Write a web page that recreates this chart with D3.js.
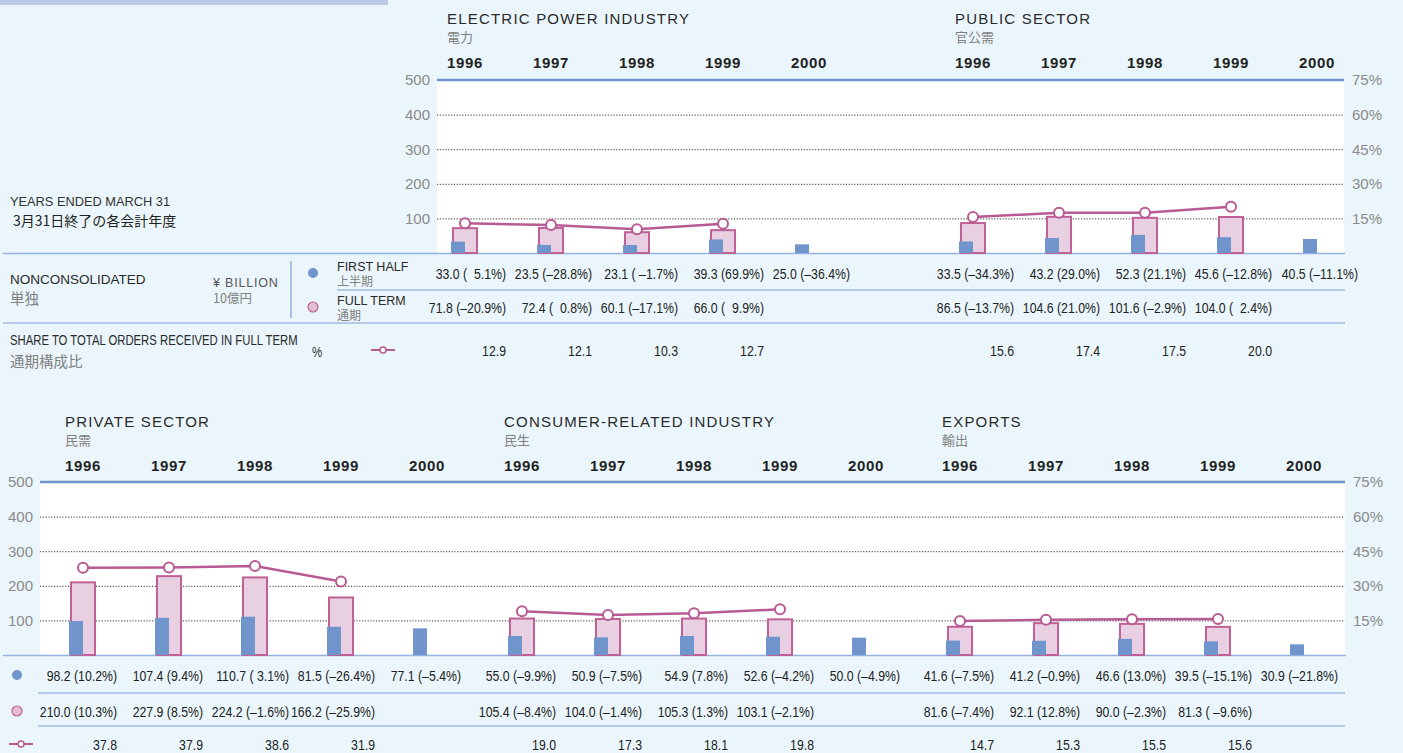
<!DOCTYPE html>
<html>
<head>
<meta charset="utf-8">
<script src="https://cdn.jsdelivr.net/npm/d3@7"></script>
<style>
body{margin:0;background:#eaf6fb;}
svg{display:block;}
text{font-family:"Liberation Sans",Arial,sans-serif;}
.jp{font-family:"Noto Sans CJK JP",sans-serif;}
</style>
</head>
<body>
<svg id="chart" width="1403" height="753"></svg>
<script>
const years = ["1996", "1997", "1998", "1999", "2000"];
const leftTicks = [100, 200, 300, 400, 500];
const rightTicks = [15, 30, 45, 60, 75];

// electric power
const electricFirstHalf = [33.0, 23.5, 23.1, 39.3, 25.0];
const electricFirstGrowth = ["  5.1%", "–28.8%", " –1.7%", "69.9%", "–36.4%"];
const electricFullTerm = [71.8, 72.4, 60.1, 66.0];
const electricFullGrowth = ["–20.9%", "  0.8%", "–17.1%", "  9.9%"];
const electricShare = [12.9, 12.1, 10.3, 12.7];

// public sector
const publicFirstHalf = [33.5, 43.2, 52.3, 45.6, 40.5];
const publicFirstGrowth = ["–34.3%", "29.0%", "21.1%", "–12.8%", "–11.1%"];
const publicFullTerm = [86.5, 104.6, 101.6, 104.0];
const publicFullGrowth = ["–13.7%", "21.0%", "–2.9%", "  2.4%"];
const publicShare = [15.6, 17.4, 17.5, 20.0];

// private sector
const privateFirstHalf = [98.2, 107.4, 110.7, 81.5, 77.1];
const privateFirstGrowth = ["10.2%", "9.4%", " 3.1%", "–26.4%", "–5.4%"];
const privateFullTerm = [210.0, 227.9, 224.2, 166.2];
const privateFullGrowth = ["10.3%", "8.5%", "–1.6%", "–25.9%"];
const privateShare = [37.8, 37.9, 38.6, 31.9];

// consumer-related
const consumerFirstHalf = [55.0, 50.9, 54.9, 52.6, 50.0];
const consumerFirstGrowth = ["–9.9%", "–7.5%", "7.8%", "–4.2%", "–4.9%"];
const consumerFullTerm = [105.4, 104.0, 105.3, 103.1];
const consumerFullGrowth = ["–8.4%", "–1.4%", "1.3%", "–2.1%"];
const consumerShare = [19.0, 17.3, 18.1, 19.8];

// exports
const exportsFirstHalf = [41.6, 41.2, 46.6, 39.5, 30.9];
const exportsFirstGrowth = ["–7.5%", "–0.9%", "13.0%", "–15.1%", "–21.8%"];
const exportsFullTerm = [81.6, 92.1, 90.0, 81.3];
const exportsFullGrowth = ["–7.4%", "12.8%", "–2.3%", " –9.6%"];
const exportsShare = [14.7, 15.3, 15.5, 15.6];

const BLUE = "#7094cc";
const PINK = "#b85a93";
const PINK_FILL = "#e8d0e2";
const LINE_BLUE = "#7d9bd6";
const SX = 0.82; // condensed look for table figures
const fmt = d3.format(".1f");

const svg = d3.select("#chart");

const panels = [
  {top: 80, bottom: 253, left: 437, right: 1344, titleY: 24, jpY: 42, yearY: 68,
   rowFirst: 279, rowFull: 313, rowShare: 356, valOffset: 55,
   groups: [
     {title: "ELECTRIC POWER INDUSTRY", jp: "電力", x0: 451,
      first: electricFirstHalf, firstG: electricFirstGrowth, full: electricFullTerm, fullG: electricFullGrowth, share: electricShare},
     {title: "PUBLIC SECTOR", jp: "官公需", x0: 959,
      first: publicFirstHalf, firstG: publicFirstGrowth, full: publicFullTerm, fullG: publicFullGrowth, share: publicShare}
   ]},
  {top: 482, bottom: 655, left: 40, right: 1345, titleY: 427, jpY: 445, yearY: 471,
   rowFirst: 681, rowFull: 717, rowShare: 750, valOffset: 48,
   groups: [
     {title: "PRIVATE SECTOR", jp: "民需", x0: 69,
      first: privateFirstHalf, firstG: privateFirstGrowth, full: privateFullTerm, fullG: privateFullGrowth, share: privateShare},
     {title: "CONSUMER-RELATED INDUSTRY", jp: "民生", x0: 508,
      first: consumerFirstHalf, firstG: consumerFirstGrowth, full: consumerFullTerm, fullG: consumerFullGrowth, share: consumerShare},
     {title: "EXPORTS", jp: "輸出", x0: 946,
      first: exportsFirstHalf, firstG: exportsFirstGrowth, full: exportsFullTerm, fullG: exportsFullGrowth, share: exportsShare}
   ]}
];

// band at top left
svg.append("rect").attr("x", 0).attr("y", 0).attr("width", 388).attr("height", 5).attr("fill", "#bdc9e8");

function hline(x1, x2, y, color, w){
  svg.append("line").attr("x1", x1).attr("x2", x2).attr("y1", y).attr("y2", y)
    .attr("stroke", color).attr("stroke-width", w);
}

panels.forEach(p => {
  const y = d3.scaleLinear().domain([0, 500]).range([p.bottom, p.top]);
  const yPct = d3.scaleLinear().domain([0, 75]).range([p.bottom, p.top]);

  svg.append("rect").attr("x", p.left).attr("y", p.top)
    .attr("width", p.right - p.left).attr("height", p.bottom - p.top).attr("fill", "#fff");

  // grid
  const grid = svg.append("g").attr("transform", `translate(${p.left},0)`)
    .call(d3.axisRight(y).tickValues([100, 200, 300, 400]).tickSize(p.right - p.left).tickFormat(""));
  grid.select(".domain").remove();
  grid.selectAll("line").attr("stroke", "#333").attr("stroke-dasharray", "1.2,1.6");

  // left axis
  const la = svg.append("g").attr("transform", `translate(${p.left},0)`)
    .call(d3.axisLeft(y).tickValues(leftTicks).tickSize(0).tickPadding(7));
  la.select(".domain").remove();
  la.selectAll("text").attr("font-size", 15).attr("fill", "#8a8a8a").attr("font-family", "Liberation Sans");

  // right axis
  const ra = svg.append("g").attr("transform", `translate(${p.right},0)`)
    .call(d3.axisRight(yPct).tickValues(rightTicks).tickSize(0).tickPadding(8).tickFormat(d => d + "%"));
  ra.select(".domain").remove();
  ra.selectAll("text").attr("font-size", 15).attr("fill", "#8a8a8a").attr("font-family", "Liberation Sans");

  hline(p.left, p.right, p.top, "#7094cc", 2.5);
  hline(3, p.right + 1, p.bottom + 0.5, "#93b2e2", 1.5);

  p.groups.forEach(g => {
    const x = d3.scalePoint().domain(years).range([g.x0, g.x0 + 4 * 86]);
    const cx = d => x(d) + 14;

    svg.append("text").attr("x", g.x0 - 4).attr("y", p.titleY)
      .attr("font-size", 15).attr("letter-spacing", 1.2).attr("fill", "#2a2a2a").text(g.title);
    svg.append("text").attr("class", "jp").attr("x", g.x0 - 4).attr("y", p.jpY)
      .attr("font-size", 13).attr("fill", "#808080").text(g.jp);

    svg.append("g").selectAll("text").data(years).join("text")
      .attr("x", cx).attr("y", p.yearY).attr("text-anchor", "middle")
      .attr("font-size", 15).attr("font-weight", "bold").attr("letter-spacing", 0.6)
      .attr("fill", "#222").text(d => d);

    // full term bars
    const fullYears = years.slice(0, g.full.length);
    svg.append("g").selectAll("rect").data(g.full).join("rect")
      .attr("x", (d, i) => x(years[i]) + 2).attr("width", 24)
      .attr("y", d => y(d)).attr("height", d => p.bottom - y(d))
      .attr("fill", PINK_FILL).attr("stroke", "#c06096").attr("stroke-width", 2);

    // first half bars
    svg.append("g").selectAll("rect").data(g.first).join("rect")
      .attr("x", (d, i) => x(years[i])).attr("width", 14)
      .attr("y", d => y(d)).attr("height", d => p.bottom - y(d))
      .attr("fill", BLUE);

    // share line
    const line = d3.line().x((d, i) => cx(fullYears[i])).y(d => yPct(d));
    svg.append("path").datum(g.share).attr("d", line)
      .attr("fill", "none").attr("stroke", PINK).attr("stroke-width", 2.5);
    svg.append("g").selectAll("circle").data(g.share).join("circle")
      .attr("cx", (d, i) => cx(fullYears[i])).attr("cy", d => yPct(d)).attr("r", 5)
      .attr("fill", "#fff").attr("stroke", PINK).attr("stroke-width", 2);

    // table values
    const valX = i => x(years[i]) + p.valOffset;
    const valText = (sel, row) => sel
      .attr("transform", (d, i) => `translate(${valX(i)},${row}) scale(${SX},1)`)
      .attr("text-anchor", "end").attr("font-size", 15).attr("fill", "#222")
      .attr("xml:space", "preserve").style("white-space", "pre");

    svg.append("g").selectAll("text").data(g.first).join("text")
      .call(valText, p.rowFirst).text((d, i) => `${fmt(d)} (${g.firstG[i]})`);
    svg.append("g").selectAll("text").data(g.full).join("text")
      .call(valText, p.rowFull).text((d, i) => `${fmt(d)} (${g.fullG[i]})`);
    svg.append("g").selectAll("text").data(g.share).join("text")
      .call(valText, p.rowShare).text(d => fmt(d));
  });
});

// table frame
hline(337, 1345, 290, LINE_BLUE, 1.2);
hline(3, 1345, 323, LINE_BLUE, 1.2);
svg.append("line").attr("x1", 291).attr("x2", 291).attr("y1", 261).attr("y2", 318)
  .attr("stroke", LINE_BLUE).attr("stroke-width", 1.2);
hline(38, 1345, 693, LINE_BLUE, 1.2);
hline(38, 1345, 726, LINE_BLUE, 1.2);

function label(x, yy, txt, size, color, opts = {}){
  const t = svg.append("text").attr("font-size", size).attr("fill", color).text(txt);
  if (opts.narrow) t.attr("transform", `translate(${x},${yy}) scale(${SX},1)`);
  else t.attr("x", x).attr("y", yy);
  if (opts.jp) t.attr("class", "jp");
  if (opts.ls) t.attr("letter-spacing", opts.ls);
  return t;
}

label(10, 206, "YEARS ENDED MARCH 31", 12.8, "#333");
label(13, 226, "3月31日終了の各会計年度", 14, "#222", {jp: true});

label(10, 284, "NONCONSOLIDATED", 13.5, "#2a2a2a");
label(10, 304, "単独", 14.5, "#808080", {jp: true});
label(213, 287, "¥ BILLION", 12.5, "#555", {ls: 0.8});
label(213, 303, "10億円", 12.5, "#808080", {jp: true});

label(337, 271, "FIRST HALF", 12.5, "#2a2a2a");
label(337, 286, "上半期", 12, "#808080", {jp: true});
label(337, 305, "FULL TERM", 12.5, "#2a2a2a");
label(337, 320, "通期", 12, "#808080", {jp: true});

label(10, 345, "SHARE TO TOTAL ORDERS RECEIVED IN FULL TERM", 13.8, "#2a2a2a", {narrow: true});
label(10, 367, "通期構成比", 14.5, "#808080", {jp: true});
label(312, 357, "%", 14, "#333", {narrow: true});

function legendDots(x, yFirst, yFull, ySym, xSym){
  svg.append("circle").attr("cx", x).attr("cy", yFirst).attr("r", 5).attr("fill", BLUE);
  svg.append("circle").attr("cx", x).attr("cy", yFull).attr("r", 5)
    .attr("fill", "#e3bcd6").attr("stroke", "#c06096").attr("stroke-width", 1.2);
  svg.append("line").attr("x1", xSym).attr("x2", xSym + 24).attr("y1", ySym).attr("y2", ySym)
    .attr("stroke", PINK).attr("stroke-width", 2);
  svg.append("circle").attr("cx", xSym + 12).attr("cy", ySym).attr("r", 3)
    .attr("fill", "#fff").attr("stroke", PINK).attr("stroke-width", 1.5);
}
legendDots(313, 273, 307, 350, 371);
legendDots(17, 675, 711, 744, 9);
</script>
</body>
</html>
